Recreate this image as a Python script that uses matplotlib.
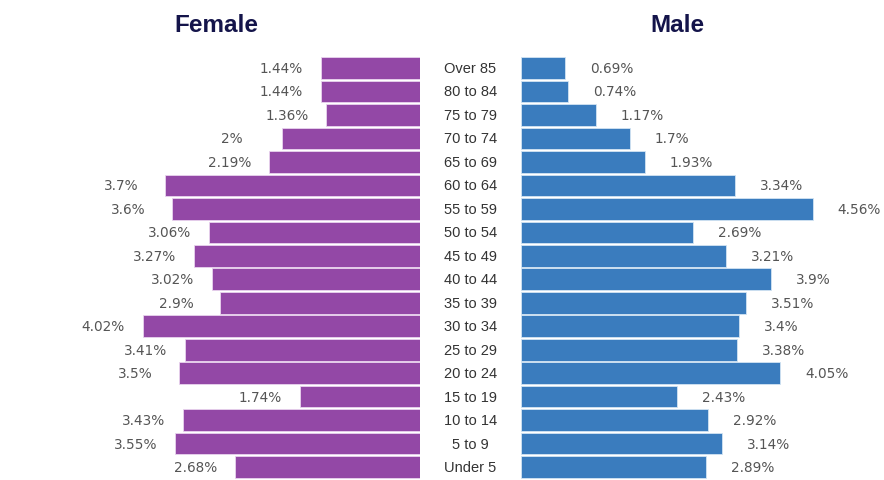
import matplotlib
matplotlib.use("Agg")
import matplotlib.pyplot as plt

categories = ["Over 85", "80 to 84", "75 to 79", "70 to 74", "65 to 69", "60 to 64",
              "55 to 59", "50 to 54", "45 to 49", "40 to 44", "35 to 39", "30 to 34",
              "25 to 29", "20 to 24", "15 to 19", "10 to 14", "5 to 9", "Under 5"]
female = [1.44, 1.44, 1.36, 2.0, 2.19, 3.7, 3.6, 3.06, 3.27, 3.02, 2.9, 4.02,
          3.41, 3.5, 1.74, 3.43, 3.55, 2.68]
male = [0.69, 0.74, 1.17, 1.7, 1.93, 3.34, 4.56, 2.69, 3.21, 3.9, 3.51, 3.4,
        3.38, 4.05, 2.43, 2.92, 3.14, 2.89]
female_labels = ["1.44%", "1.44%", "1.36%", "2%", "2.19%", "3.7%", "3.6%", "3.06%", "3.27%",
                 "3.02%", "2.9%", "4.02%", "3.41%", "3.5%", "1.74%", "3.43%", "3.55%", "2.68%"]
male_labels = ["0.69%", "0.74%", "1.17%", "1.7%", "1.93%", "3.34%", "4.56%", "2.69%", "3.21%",
               "3.9%", "3.51%", "3.4%", "3.38%", "4.05%", "2.43%", "2.92%", "3.14%", "2.89%"]

W, H = 884, 481
fig = plt.figure(figsize=(W / 100, H / 100), dpi=100)
fig.patch.set_facecolor("white")

purple = "#9348A6"
blue = "#3A7CBE"
ylim = (17.55, -2.94)
ypos = list(range(len(categories)))

def px_axes(x0, x1):
    return fig.add_axes([x0 / W, 0, (x1 - x0) / W, 1])

axf = px_axes(40, 420)
axf.barh(ypos, female, height=0.92, color=purple, edgecolor="#e9d4ee", linewidth=0.6)
axf.set_xlim(380 / 69.0, 0)
axf.set_ylim(*ylim)
axf.axis("off")
for y, v, lab in zip(ypos, female, female_labels):
    axf.annotate(lab, (v, y), xytext=(-61, 0), textcoords="offset pixels",
                 ha="left", va="center", fontsize=9.8, color="#555555",
                 family="DejaVu Sans")

axm = px_axes(521, 884)
axm.barh(ypos, male, height=0.92, color=blue, edgecolor="#d2e4f3", linewidth=0.6)
axm.set_xlim(0, 363 / 64.0)
axm.set_ylim(*ylim)
axm.axis("off")
for y, v, lab in zip(ypos, male, male_labels):
    axm.annotate(lab, (v, y), xytext=(25, 0), textcoords="offset pixels",
                 ha="left", va="center", fontsize=9.8, color="#555555",
                 family="DejaVu Sans")

axc = px_axes(420, 521)
axc.set_xlim(0, 1)
axc.set_ylim(*ylim)
axc.axis("off")
for y, c in zip(ypos, categories):
    axc.text(0.5, y, c, ha="center", va="center", fontsize=10.5, color="#333333",
             family="Liberation Sans")

fig.text(216 / W, 1 - 25 / H, "Female", ha="center", va="center", fontsize=17.5,
         fontweight="bold", color="#14144a", family="Liberation Sans")
fig.text(677 / W, 1 - 25 / H, "Male", ha="center", va="center", fontsize=17.5,
         fontweight="bold", color="#14144a", family="Liberation Sans")

fig.savefig("out.png", dpi=100, facecolor="white")
